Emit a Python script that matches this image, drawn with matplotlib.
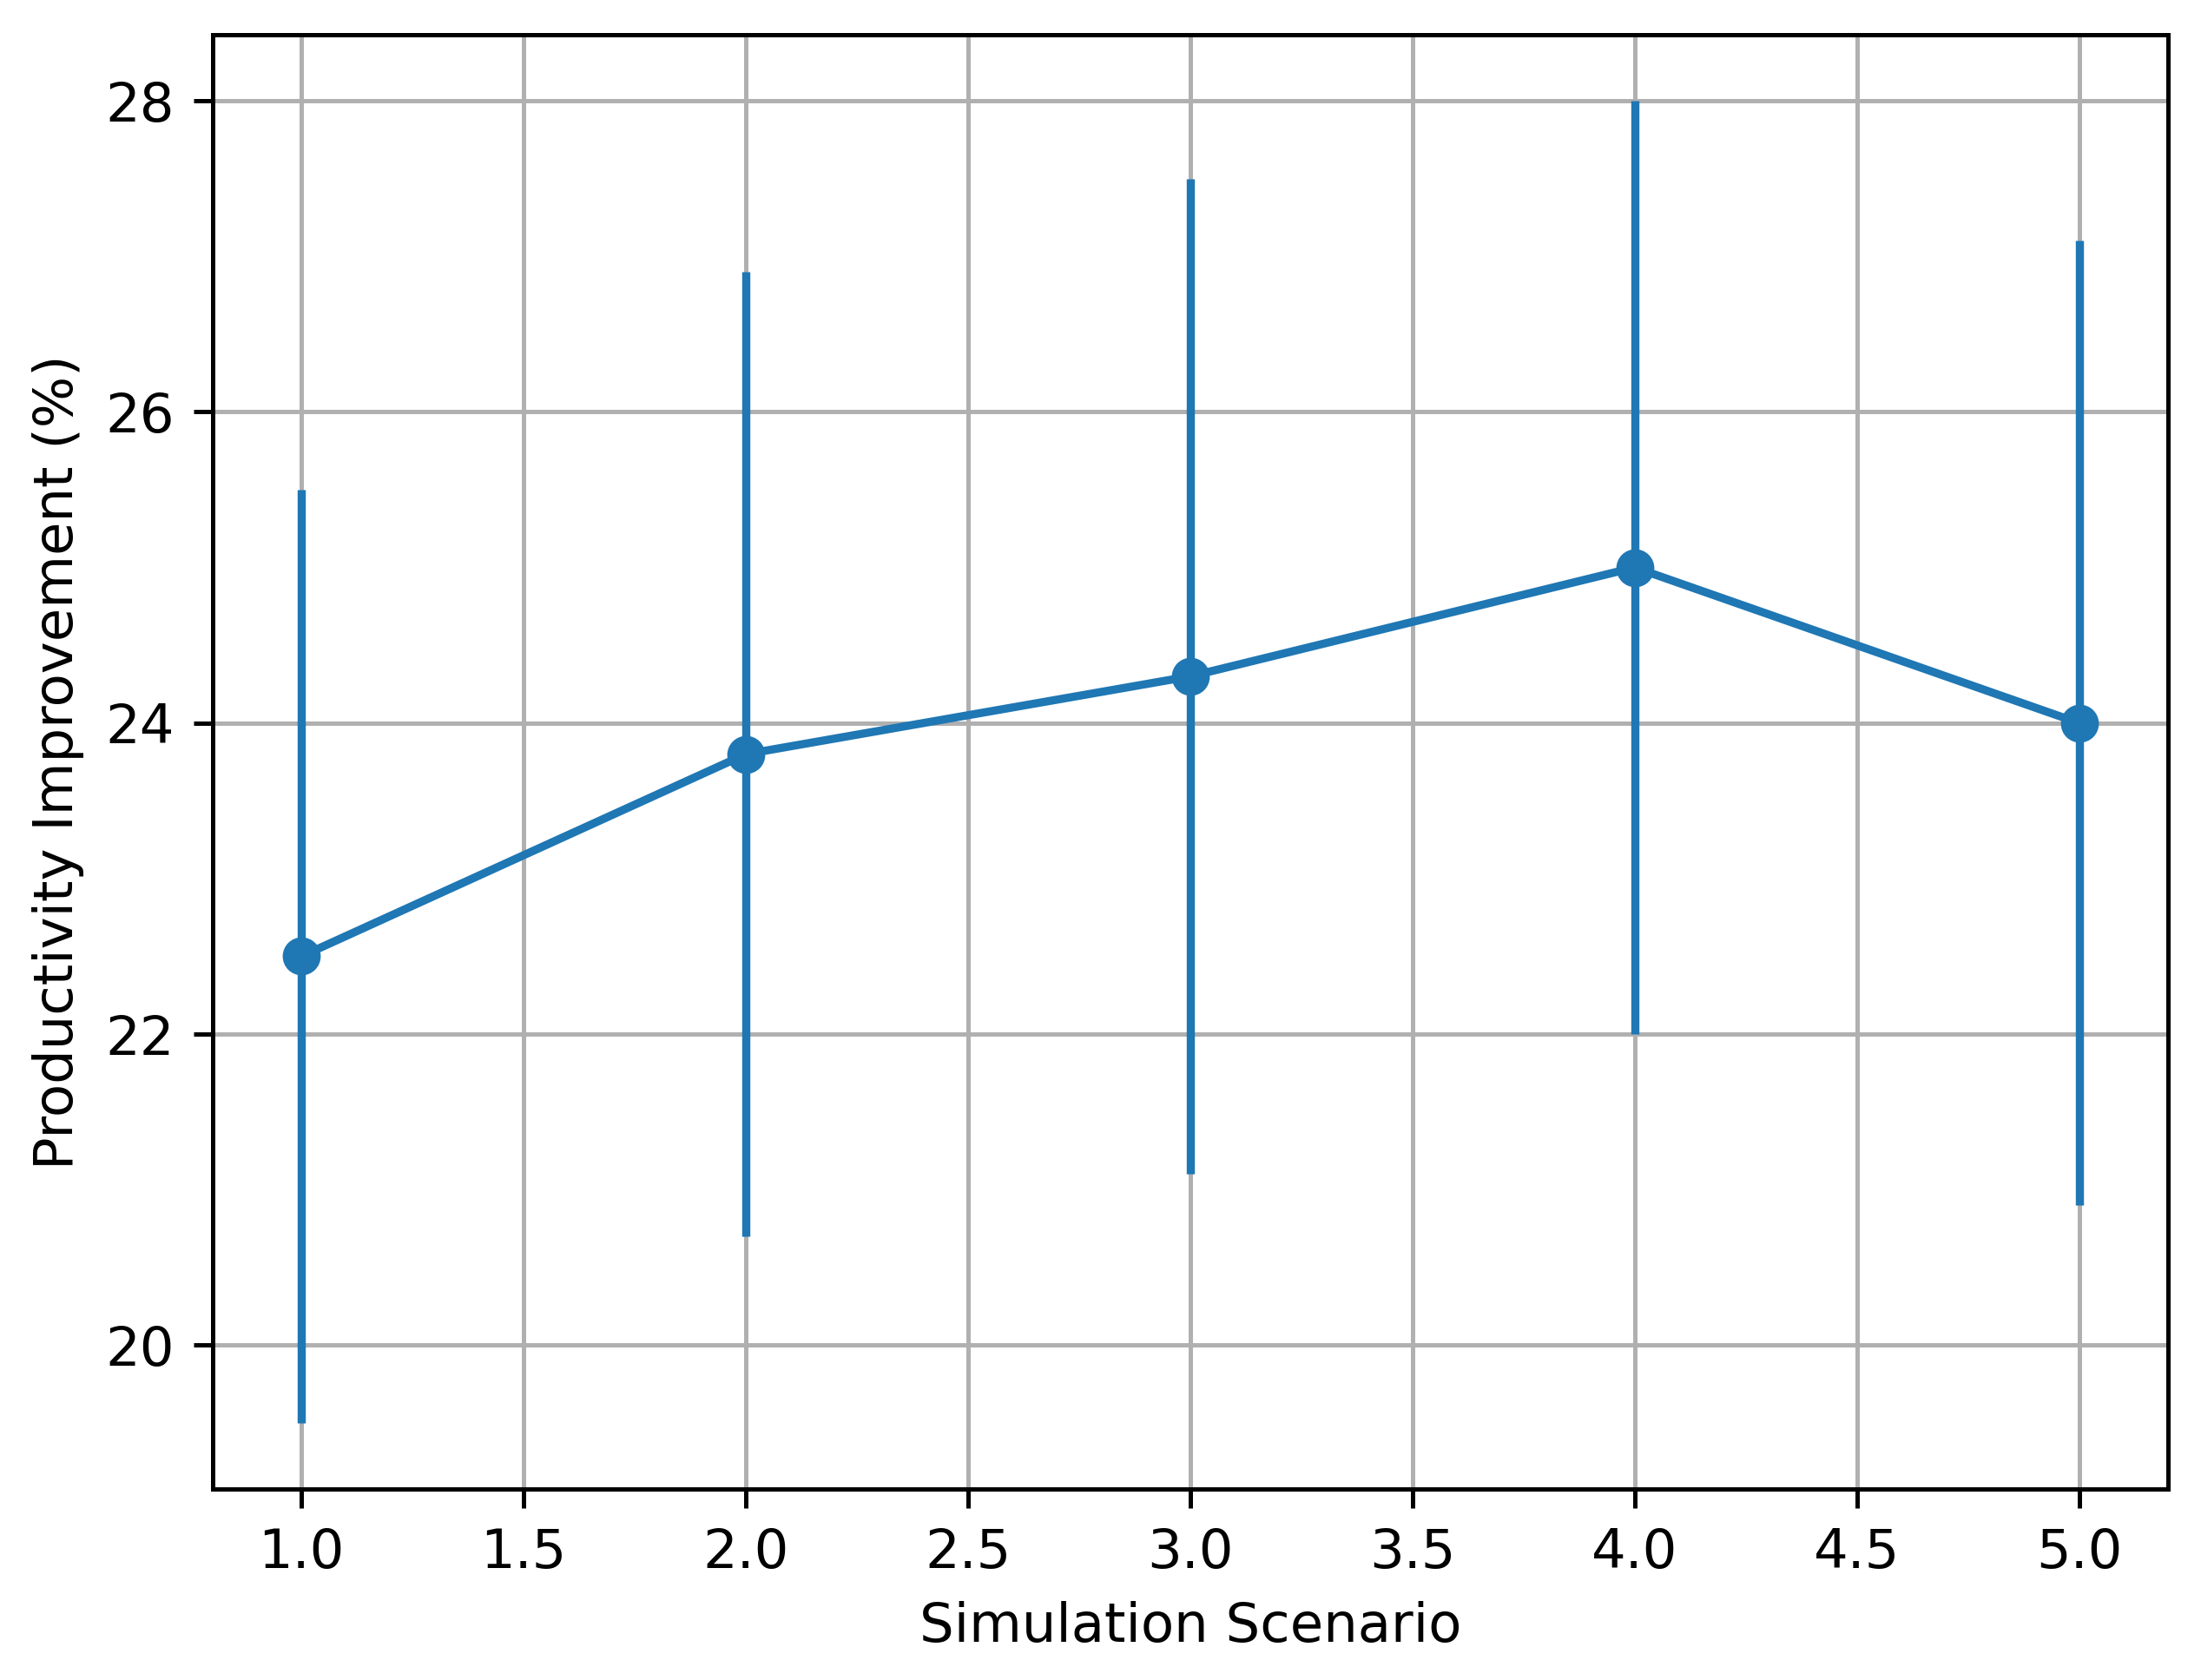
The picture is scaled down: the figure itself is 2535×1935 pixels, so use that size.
import matplotlib
matplotlib.use("Agg")
import matplotlib.pyplot as plt

# Values
scenarios = [1, 2, 3, 4, 5]
mean_improvement = [22.5, 23.8, 24.3, 25.0, 24.0]
error = [3.0, 3.1, 3.2, 3.0, 3.1]

fig = plt.figure(figsize=(2535 / 450, 1935 / 450), dpi=450)
ax = fig.add_axes([0.0966, 0.1137, 0.8884, 0.8656])

ax.errorbar(scenarios, mean_improvement, yerr=error, fmt='-o', color='#1f77b4')
ax.set_xlabel("Simulation Scenario")
ax.set_ylabel("Productivity Improvement (%)")
ax.grid(True)

fig.savefig("out.png", dpi=450)
